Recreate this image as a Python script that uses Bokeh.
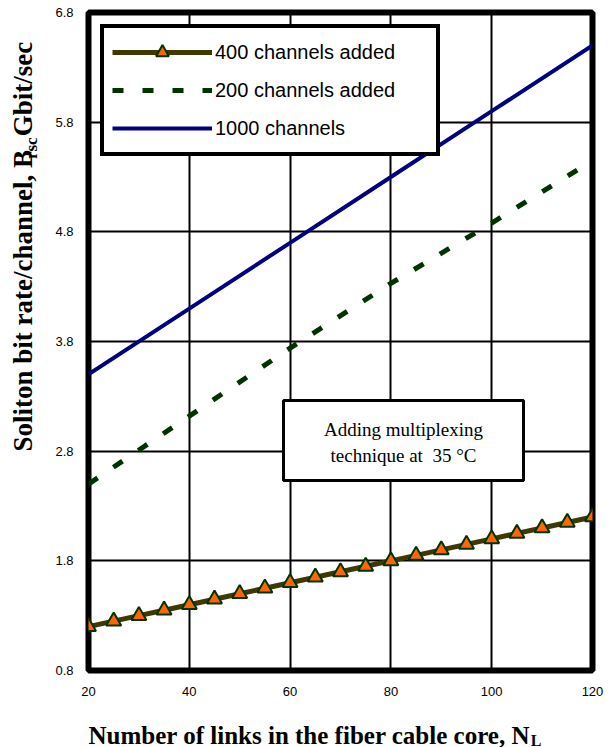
import math

from bokeh.plotting import figure
from bokeh.layouts import column, row
from bokeh.models import (Range1d, Legend, LegendItem, Label, BoxAnnotation,
                          FixedTicker)
from bokeh.embed import file_html
from bokeh.resources import INLINE

# ---- data -------------------------------------------------------------
links = [20, 25, 30, 35, 40, 45, 50, 55, 60, 65, 70,
         75, 80, 85, 90, 95, 100, 105, 110, 115, 120]
rate_400_added = [1.20, 1.25, 1.30, 1.35, 1.40, 1.45, 1.50, 1.55, 1.60, 1.65, 1.70,
                  1.75, 1.80, 1.85, 1.90, 1.95, 2.00, 2.05, 2.10, 2.15, 2.20]

links_200 = [20, 40, 60, 80, 100, 120]
rate_200_added = [2.50, 3.12, 3.74, 4.33, 4.88, 5.45]

links_1000 = [20, 40, 60, 80, 100, 120]
rate_1000 = [3.50, 4.10, 4.70, 5.30, 5.90, 6.50]

x_ticks = [20, 40, 60, 80, 100, 120]
y_ticks = [0.8, 1.8, 2.8, 3.8, 4.8, 5.8, 6.8]

# ---- page geometry ----------------------------------------------------
# [ y-title strip | main plot ]
# [        x-title strip      ]
W, H = 609, 747
YT_W = 45            # width of the strip holding the rotated y title
XT_H = 47            # height of the strip holding the x title
P_W, P_H = W - YT_W, H - XT_H

B_LEFT, B_RIGHT, B_TOP, B_BOTTOM = 43, 17, 12, 30
X0, X1 = 20, 120
Y0, Y1 = 0.8, 6.8
FRAME_W = P_W - B_LEFT - B_RIGHT
FRAME_H = P_H - B_TOP - B_BOTTOM
FRAME_L = YT_W + B_LEFT          # frame left edge on the page


def px2x(px):
    """page pixel column -> data x of the main plot"""
    return X0 + (px - FRAME_L) * (X1 - X0) / FRAME_W


def px2y(py):
    """page pixel row -> data y of the main plot"""
    return Y0 + (B_TOP + FRAME_H - py) * (Y1 - Y0) / FRAME_H


p = figure(width=P_W, height=P_H, title=None,
           x_range=Range1d(X0, X1), y_range=Range1d(Y0, Y1),
           output_backend="svg", toolbar_location=None,
           min_border_left=B_LEFT, min_border_right=B_RIGHT,
           min_border_top=B_TOP, min_border_bottom=B_BOTTOM)

p.background_fill_color = "white"
p.border_fill_color = "white"
p.outline_line_color = "black"
p.outline_line_alpha = 1.0
p.outline_line_width = 6

# axes: tick labels only, the thick outline acts as the axis frame
for ax, ticks, standoff in ((p.xaxis, x_ticks, 10), (p.yaxis, y_ticks, 9)):
    ax.ticker = FixedTicker(ticks=ticks)
    ax.axis_line_color = None
    ax.major_tick_line_color = None
    ax.minor_tick_line_color = None
    ax.major_label_text_font = "Liberation Sans"
    ax.major_label_text_font_size = "13px"
    ax.major_label_text_color = "black"
    ax.major_label_standoff = standoff

p.xgrid.ticker = FixedTicker(ticks=x_ticks)
p.ygrid.ticker = FixedTicker(ticks=y_ticks)
for g in (p.xgrid, p.ygrid):
    g.grid_line_color = "black"
    g.grid_line_width = 2
    g.grid_line_alpha = 1.0

# ---- series -------------------------------------------------------------
r1000 = p.line(links_1000, rate_1000, line_color="#000080", line_width=4)
r200 = p.line(links_200, rate_200_added, line_color="#003300", line_width=5,
              line_dash="11 19")
r400_line = p.line(links, rate_400_added, line_color="#3F3800", line_width=5)
r400_pts = p.scatter(links, rate_400_added, marker="triangle", size=15,
                     fill_color="#FF6600", line_color="#003300", line_width=2)

# ---- legend -------------------------------------------------------------
legend = Legend(items=[
    LegendItem(label="400 channels added", renderers=[r400_line, r400_pts]),
    LegendItem(label="200 channels added", renderers=[r200]),
    LegendItem(label="1000 channels", renderers=[r1000]),
], location="top_left", margin=12, padding=8, spacing=6,
    glyph_width=100, glyph_height=32, label_height=32, label_width=213,
    label_standoff=3,
    label_text_font="Liberation Sans", label_text_font_size="20px",
    label_text_color="black",
    border_line_color="black", border_line_width=4, border_line_alpha=1.0,
    background_fill_color="white", background_fill_alpha=1.0)
p.add_layout(legend)

# ---- note box -----------------------------------------------------------
p.add_layout(BoxAnnotation(left=px2x(283), right=px2x(523),
                           top=px2y(400), bottom=px2y(480),
                           fill_color="white", fill_alpha=1.0,
                           line_color="black", line_alpha=1.0, line_width=3))
for txt, py in (("Adding multiplexing", 429),
                ("technique at\u00a0 35 \u00b0C", 455)):
    p.add_layout(Label(x=px2x(403), y=px2y(py), text=txt,
                       text_align="center", text_baseline="alphabetic",
                       text_font="Liberation Serif", text_font_size="19px",
                       text_color="black"))


# ---- axis titles with subscripts ----------------------------------------
def strip(width, height):
    """a bare figure whose data units are its own pixels (y upward)"""
    f = figure(width=width, height=height, title=None,
               x_range=Range1d(0, width), y_range=Range1d(0, height),
               x_axis_type=None, y_axis_type=None,
               output_backend="svg", toolbar_location=None, min_border=0)
    f.outline_line_color = None
    f.background_fill_color = "white"
    f.border_fill_color = "white"
    return f


# Times-Bold advance widths (1/1000 em) for laying out the title pieces
TB = {" ": 250, ",": 250, "/": 278, "B": 667, "G": 778, "L": 667, "N": 722,
      "S": 556, "a": 500, "b": 556, "c": 444, "d": 556, "e": 444, "f": 333,
      "h": 556, "i": 278, "k": 556, "l": 278, "m": 833, "n": 556, "o": 500,
      "r": 444, "s": 389, "t": 333, "u": 556}


def text_len(s, size):
    return sum(TB[c] for c in s) * size / 1000.0


def title_label(text, size, x, y, angle=0.0):
    return Label(x=x, y=y, text=text, angle=angle,
                 text_align="left", text_baseline="alphabetic",
                 text_font="Liberation Serif", text_font_style="bold",
                 text_font_size=f"{size}px", text_color="black")


# x title, reading left to right: (text, size, baseline drop, gap before)
xt = strip(W, XT_H)
xs = [("Number of links in the fiber cable core, N", 25, 0, 0),
      ("L", 16, 5, 0)]
cx = 88
base = 735 - P_H                     # baseline row inside the strip
for txt, size, drop, gap in xs:
    cx += gap
    xt.add_layout(title_label(txt, size, cx, XT_H - (base + drop)))
    cx += text_len(txt, size)

# y title, reading bottom to top; the rotated anchor sits off the glyph
# baseline start, so each piece is nudged by a size-proportional offset
ANCHOR_DX, ANCHOR_DY = 0.39, 0.556
yt = strip(YT_W, P_H)
ys = [("Soliton bit rate/channel, B", 27, 0, 0),
      ("rsc", 17, 5, 4),
      ("Gbit/sec", 27, 0, 8)]
cy = 452
for txt, size, drop, gap in ys:
    cy -= gap
    ax_px = 33 + drop - ANCHOR_DX * size
    ay_px = cy + ANCHOR_DY * size
    yt.add_layout(title_label(txt, size, ax_px, P_H - ay_px,
                              angle=math.pi / 2))
    cy -= text_len(txt, size)

page = column(row(yt, p, spacing=0), xt, spacing=0)

open("out.html", "w").write(file_html(page, INLINE))
